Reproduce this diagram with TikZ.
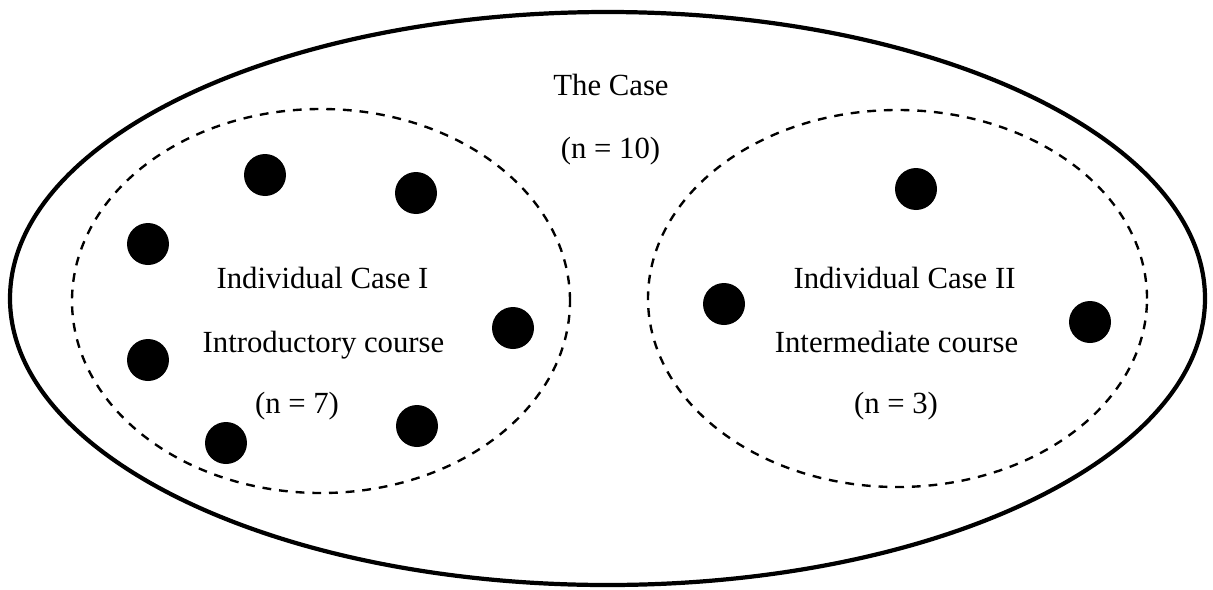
\documentclass[tikz,border=0pt]{standalone}
\usepackage{fontspec}
\setmainfont{Liberation Serif}
\begin{document}
\begin{tikzpicture}[x=0.02cm,y=-0.02cm,
  outerset/.style={line width=2.4pt},
  groupset/.style={line width=1.35pt, dash pattern=on 5pt off 4.5pt},
  member/.style={circle, fill=black, minimum size=0.84cm, inner sep=0pt},
  lbl/.style={anchor=base, inner sep=0pt, font=\fontsize{17.5}{20}\selectfont}]
\useasboundingbox (0,0) rectangle (1213,589);
\fill[white] (0,0) rectangle (1213,589);
\draw[outerset] (607.5,298.5) ellipse [x radius=597.5*0.02cm, y radius=286.5*0.02cm];
\draw[groupset] (321,301) ellipse [x radius=249*0.02cm, y radius=192*0.02cm];
\draw[groupset] (897.5,298.5) ellipse [x radius=249.5*0.02cm, y radius=188.5*0.02cm];
\node[lbl] (tcase) at (611,95) {The Case};
\node[lbl] (tn) at (610.5,158) {(n = 10)};
\node[lbl] (l1) at (322.5,288) {Individual Case I};
\node[lbl] (l2) at (323.5,352) {Introductory course};
\node[lbl] (l3) at (297,413) {(n = 7)};
\node[lbl] (r1) at (904.5,288) {Individual Case II};
\node[lbl] (r2) at (896.5,352) {Intermediate course};
\node[lbl] (r3) at (896,413) {(n = 3)};
\node[member] (a1) at (265,175) {};
\node[member] (a2) at (416,193) {};
\node[member] (a3) at (148,244) {};
\node[member] (a4) at (513,328) {};
\node[member] (a5) at (148,360) {};
\node[member] (a6) at (417,426) {};
\node[member] (a7) at (226,443) {};
\node[member] (b1) at (916,189) {};
\node[member] (b2) at (724,304) {};
\node[member] (b3) at (1090,322) {};
\end{tikzpicture}
\end{document}
